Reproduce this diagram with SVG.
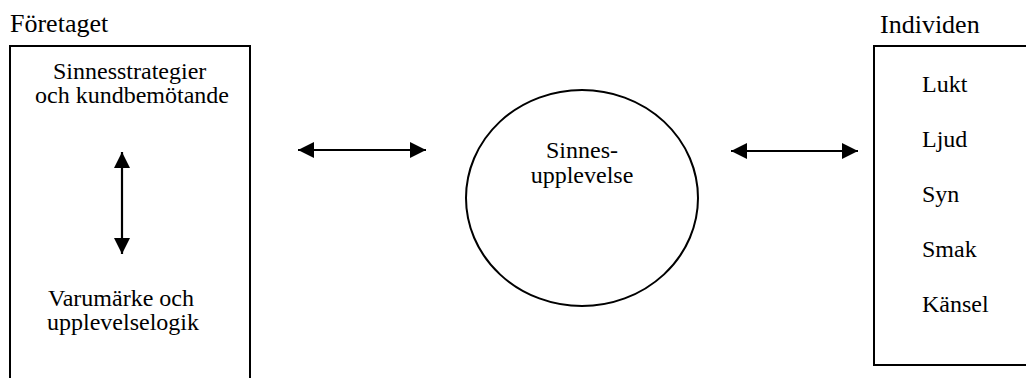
<svg xmlns="http://www.w3.org/2000/svg" width="1026" height="378" viewBox="0 0 1026 378" font-family="Liberation Serif, Times New Roman, DejaVu Serif, serif">
  <defs>
    <style>
      text { font-family: 'Liberation Serif', 'Times New Roman', 'DejaVu Serif', serif; font-size: 24px; fill: #000; }
      text.head { font-size: 26px; }
      .box { fill: #fff; stroke: #000; stroke-width: 2; }
      .conn { stroke: #000; stroke-width: 2.2; fill: none; marker-start: url(#ah); marker-end: url(#ah); }
    </style>
    <marker id="ah" markerUnits="userSpaceOnUse" markerWidth="17" markerHeight="17" refX="16" refY="8.5" orient="auto-start-reverse" viewBox="0 0 17 17">
      <path d="M0,0.5 L16,8.5 L0,16.5 z" fill="#000"/>
    </marker>
  </defs>
  <rect width="1026" height="378" fill="#fff"/>

  <g id="foretaget">
    <text class="head" x="10" y="32">Företaget</text>
    <rect class="box" x="10" y="46" width="240" height="340"/>
    <text x="53" y="79">Sinnesstrategier</text>
    <text x="35" y="103">och kundbemötande</text>
    <text x="48" y="306">Varumärke och</text>
    <text x="47" y="330">upplevelselogik</text>
  </g>

  <g id="sinnesupplevelse">
    <ellipse cx="582" cy="198" rx="116" ry="108" fill="#fff" stroke="#000" stroke-width="2"/>
    <text x="582" y="158" text-anchor="middle">Sinnes-</text>
    <text x="582" y="183" text-anchor="middle">upplevelse</text>
  </g>

  <g id="individen">
    <text class="head" x="880" y="33">Individen</text>
    <rect class="box" x="874" y="46" width="170" height="319"/>
    <text x="922" y="92">Lukt</text>
    <text x="922" y="147">Ljud</text>
    <text x="922" y="202">Syn</text>
    <text x="922" y="257">Smak</text>
    <text x="922" y="312">Känsel</text>
  </g>

  <g id="connectors">
    <line class="conn" x1="122" y1="152" x2="122" y2="254"/>
    <line class="conn" x1="298" y1="150" x2="426" y2="150"/>
    <line class="conn" x1="731" y1="151" x2="858" y2="151"/>
  </g>
</svg>
